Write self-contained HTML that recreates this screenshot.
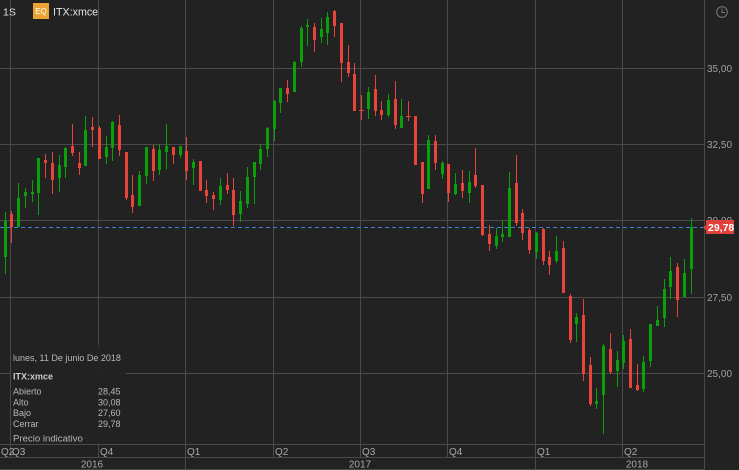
<!DOCTYPE html>
<html><head><meta charset="utf-8"><style>
html,body{margin:0;padding:0;background:#222222;}
svg{display:block;}
text{font-family:"Liberation Sans",Arial,sans-serif;}
.g rect{fill:#0aa00a;}
.r rect{fill:#e9443a;}
</style></head><body>
<svg width="739" height="470" viewBox="0 0 739 470" xmlns="http://www.w3.org/2000/svg">
<rect x="0" y="0" width="739" height="470" fill="#222222"/>
<g stroke="#4a4a4a" stroke-width="1" fill="none">
<line x1="0" y1="68.5" x2="704" y2="68.5"/>
<line x1="0" y1="144.5" x2="704" y2="144.5"/>
<line x1="0" y1="220.5" x2="704" y2="220.5"/>
<line x1="0" y1="297.5" x2="704" y2="297.5"/>
<line x1="0" y1="373.5" x2="704" y2="373.5"/>
<line x1="10.5" y1="0" x2="10.5" y2="457"/>
<line x1="98.5" y1="0" x2="98.5" y2="457"/>
<line x1="185.5" y1="0" x2="185.5" y2="470"/>
<line x1="273.5" y1="0" x2="273.5" y2="457"/>
<line x1="360.5" y1="0" x2="360.5" y2="457"/>
<line x1="447.5" y1="0" x2="447.5" y2="457"/>
<line x1="535.5" y1="0" x2="535.5" y2="470"/>
<line x1="622.5" y1="0" x2="622.5" y2="457"/>
<line x1="704.5" y1="0" x2="704.5" y2="470"/>
<line x1="0" y1="444.5" x2="704" y2="444.5"/>
<line x1="0" y1="457.5" x2="704" y2="457.5"/>
<line x1="0" y1="469.5" x2="704" y2="469.5"/>
</g>
<line x1="0" y1="227.5" x2="704" y2="227.5" stroke="#3b80d4" stroke-width="1" stroke-dasharray="4 3"/>
<g class="g">
<rect x="5" y="212" width="1" height="62"/><rect x="4" y="221" width="3" height="36"/>
<rect x="18" y="183" width="1" height="44"/><rect x="17" y="198" width="3" height="29"/>
<rect x="25" y="188" width="1" height="20"/><rect x="24" y="192" width="3" height="4"/>
<rect x="32" y="180" width="1" height="22"/><rect x="31" y="192" width="3" height="2"/>
<rect x="38" y="158" width="1" height="57"/><rect x="37" y="158" width="3" height="35"/>
<rect x="59" y="155" width="1" height="37"/><rect x="58" y="165" width="3" height="13"/>
<rect x="65" y="147" width="1" height="31"/><rect x="64" y="148" width="3" height="19"/>
<rect x="85" y="116" width="1" height="50"/><rect x="84" y="130" width="3" height="36"/>
<rect x="106" y="136" width="1" height="28"/><rect x="105" y="147" width="3" height="10"/>
<rect x="112" y="121" width="1" height="40"/><rect x="111" y="122" width="3" height="26"/>
<rect x="139" y="171" width="1" height="35"/><rect x="138" y="175" width="3" height="31"/>
<rect x="146" y="147" width="1" height="37"/><rect x="145" y="147" width="3" height="29"/>
<rect x="159" y="144" width="1" height="31"/><rect x="158" y="150" width="3" height="20"/>
<rect x="166" y="124" width="1" height="45"/><rect x="165" y="146" width="3" height="6"/>
<rect x="180" y="146" width="1" height="12"/><rect x="179" y="146" width="3" height="9"/>
<rect x="193" y="159" width="1" height="26"/><rect x="192" y="162" width="3" height="6"/>
<rect x="220" y="178" width="1" height="27"/><rect x="219" y="186" width="3" height="14"/>
<rect x="240" y="191" width="1" height="31"/><rect x="239" y="201" width="3" height="13"/>
<rect x="247" y="167" width="1" height="41"/><rect x="246" y="177" width="3" height="27"/>
<rect x="254" y="162" width="1" height="42"/><rect x="253" y="162" width="3" height="15"/>
<rect x="260" y="144" width="1" height="26"/><rect x="259" y="149" width="3" height="15"/>
<rect x="267" y="127" width="1" height="30"/><rect x="266" y="128" width="3" height="21"/>
<rect x="274" y="100" width="1" height="41"/><rect x="273" y="101" width="3" height="28"/>
<rect x="280" y="88" width="1" height="25"/><rect x="279" y="88" width="3" height="15"/>
<rect x="294" y="61" width="1" height="31"/><rect x="293" y="62" width="3" height="30"/>
<rect x="301" y="26" width="1" height="41"/><rect x="300" y="28" width="3" height="34"/>
<rect x="307" y="19" width="1" height="27"/><rect x="306" y="25" width="3" height="2"/>
<rect x="321" y="18" width="1" height="25"/><rect x="320" y="29" width="3" height="8"/>
<rect x="327" y="12" width="1" height="33"/><rect x="326" y="17" width="3" height="16"/>
<rect x="368" y="87" width="1" height="32"/><rect x="367" y="92" width="3" height="17"/>
<rect x="388" y="94" width="1" height="23"/><rect x="387" y="100" width="3" height="15"/>
<rect x="401" y="99" width="1" height="29"/><rect x="400" y="116" width="3" height="12"/>
<rect x="428" y="135" width="1" height="54"/><rect x="427" y="140" width="3" height="49"/>
<rect x="442" y="161" width="1" height="18"/><rect x="441" y="163" width="3" height="11"/>
<rect x="455" y="173" width="1" height="22"/><rect x="454" y="184" width="3" height="10"/>
<rect x="469" y="171" width="1" height="32"/><rect x="468" y="182" width="3" height="11"/>
<rect x="496" y="228" width="1" height="21"/><rect x="495" y="236" width="3" height="10"/>
<rect x="502" y="220" width="1" height="22"/><rect x="501" y="234" width="3" height="3"/>
<rect x="509" y="172" width="1" height="65"/><rect x="508" y="188" width="3" height="49"/>
<rect x="536" y="232" width="1" height="27"/><rect x="535" y="233" width="3" height="19"/>
<rect x="556" y="236" width="1" height="27"/><rect x="555" y="251" width="3" height="10"/>
<rect x="576" y="313" width="1" height="29"/><rect x="575" y="317" width="3" height="7"/>
<rect x="596" y="388" width="1" height="21"/><rect x="595" y="401" width="3" height="3"/>
<rect x="603" y="344" width="1" height="90"/><rect x="602" y="346" width="3" height="49"/>
<rect x="617" y="351" width="1" height="36"/><rect x="616" y="360" width="3" height="11"/>
<rect x="623" y="335" width="1" height="34"/><rect x="622" y="341" width="3" height="22"/>
<rect x="643" y="356" width="1" height="36"/><rect x="642" y="362" width="3" height="27"/>
<rect x="650" y="324" width="1" height="43"/><rect x="649" y="324" width="3" height="37"/>
<rect x="657" y="306" width="1" height="20"/><rect x="656" y="320" width="3" height="6"/>
<rect x="664" y="279" width="1" height="48"/><rect x="663" y="289" width="3" height="29"/>
<rect x="670" y="257" width="1" height="42"/><rect x="669" y="271" width="3" height="16"/>
<rect x="684" y="259" width="1" height="38"/><rect x="683" y="273" width="3" height="24"/>
<rect x="691" y="218" width="1" height="76"/><rect x="690" y="227" width="3" height="42"/>
</g>
<g class="r">
<rect x="11" y="211" width="1" height="32"/><rect x="10" y="214" width="3" height="13"/>
<rect x="45" y="154" width="1" height="24"/><rect x="44" y="160" width="3" height="3"/>
<rect x="52" y="152" width="1" height="42"/><rect x="51" y="163" width="3" height="17"/>
<rect x="72" y="124" width="1" height="32"/><rect x="71" y="146" width="3" height="7"/>
<rect x="79" y="152" width="1" height="23"/><rect x="78" y="163" width="3" height="5"/>
<rect x="92" y="117" width="1" height="30"/><rect x="91" y="127" width="3" height="3"/>
<rect x="99" y="126" width="1" height="33"/><rect x="98" y="128" width="3" height="31"/>
<rect x="119" y="115" width="1" height="41"/><rect x="118" y="125" width="3" height="25"/>
<rect x="126" y="152" width="1" height="48"/><rect x="125" y="152" width="3" height="46"/>
<rect x="132" y="175" width="1" height="38"/><rect x="131" y="195" width="3" height="12"/>
<rect x="153" y="145" width="1" height="36"/><rect x="152" y="149" width="3" height="22"/>
<rect x="173" y="147" width="1" height="17"/><rect x="172" y="147" width="3" height="8"/>
<rect x="186" y="137" width="1" height="43"/><rect x="185" y="151" width="3" height="20"/>
<rect x="200" y="161" width="1" height="30"/><rect x="199" y="161" width="3" height="30"/>
<rect x="206" y="180" width="1" height="23"/><rect x="205" y="190" width="3" height="6"/>
<rect x="213" y="192" width="1" height="18"/><rect x="212" y="195" width="3" height="4"/>
<rect x="227" y="173" width="1" height="21"/><rect x="226" y="185" width="3" height="5"/>
<rect x="233" y="178" width="1" height="48"/><rect x="232" y="190" width="3" height="25"/>
<rect x="287" y="80" width="1" height="22"/><rect x="286" y="88" width="3" height="6"/>
<rect x="314" y="23" width="1" height="29"/><rect x="313" y="27" width="3" height="13"/>
<rect x="334" y="10" width="1" height="27"/><rect x="333" y="11" width="3" height="15"/>
<rect x="341" y="23" width="1" height="59"/><rect x="340" y="23" width="3" height="40"/>
<rect x="348" y="45" width="1" height="32"/><rect x="347" y="62" width="3" height="11"/>
<rect x="354" y="63" width="1" height="48"/><rect x="353" y="74" width="3" height="37"/>
<rect x="361" y="95" width="1" height="25"/><rect x="359" y="110" width="5" height="1"/>
<rect x="375" y="75" width="1" height="41"/><rect x="374" y="89" width="3" height="22"/>
<rect x="381" y="101" width="1" height="19"/><rect x="380" y="110" width="3" height="5"/>
<rect x="395" y="81" width="1" height="48"/><rect x="394" y="99" width="3" height="26"/>
<rect x="408" y="101" width="1" height="20"/><rect x="406" y="116" width="5" height="1"/>
<rect x="415" y="116" width="1" height="49"/><rect x="414" y="116" width="3" height="49"/>
<rect x="422" y="162" width="1" height="41"/><rect x="421" y="162" width="3" height="32"/>
<rect x="435" y="135" width="1" height="35"/><rect x="434" y="141" width="3" height="22"/>
<rect x="448" y="164" width="1" height="38"/><rect x="447" y="164" width="3" height="29"/>
<rect x="462" y="170" width="1" height="28"/><rect x="461" y="183" width="3" height="8"/>
<rect x="475" y="148" width="1" height="40"/><rect x="474" y="175" width="3" height="11"/>
<rect x="482" y="185" width="1" height="51"/><rect x="481" y="185" width="3" height="50"/>
<rect x="489" y="225" width="1" height="26"/><rect x="488" y="234" width="3" height="10"/>
<rect x="516" y="155" width="1" height="71"/><rect x="515" y="183" width="3" height="40"/>
<rect x="522" y="209" width="1" height="31"/><rect x="521" y="213" width="3" height="20"/>
<rect x="529" y="228" width="1" height="26"/><rect x="528" y="230" width="3" height="20"/>
<rect x="543" y="228" width="1" height="37"/><rect x="542" y="229" width="3" height="32"/>
<rect x="549" y="251" width="1" height="24"/><rect x="548" y="257" width="3" height="8"/>
<rect x="563" y="241" width="1" height="52"/><rect x="562" y="248" width="3" height="45"/>
<rect x="570" y="294" width="1" height="49"/><rect x="569" y="296" width="3" height="44"/>
<rect x="583" y="299" width="1" height="82"/><rect x="582" y="315" width="3" height="59"/>
<rect x="590" y="357" width="1" height="49"/><rect x="589" y="365" width="3" height="39"/>
<rect x="610" y="333" width="1" height="41"/><rect x="609" y="349" width="3" height="23"/>
<rect x="630" y="329" width="1" height="59"/><rect x="629" y="339" width="3" height="49"/>
<rect x="637" y="364" width="1" height="27"/><rect x="636" y="385" width="3" height="5"/>
<rect x="677" y="263" width="1" height="54"/><rect x="676" y="267" width="3" height="33"/>
</g>
<text x="3" y="15.5" font-size="10.5" fill="#e2e2e2">1S</text>
<rect x="33" y="3" width="16" height="16" fill="#e9a434"/>
<text x="41" y="14" font-size="8" fill="#ffffff" text-anchor="middle">EQ</text>
<text x="53" y="15.5" font-size="10.7" fill="#e6e6e6">ITX:xmce</text>
<circle cx="722" cy="12" r="5.3" fill="none" stroke="#7a7a7a" stroke-width="1"/>
<polyline points="722,8.5 722,12.5 725,12.5" fill="none" stroke="#7a7a7a" stroke-width="1"/>
<g font-size="10" fill="#a0a0a0">
<text x="707" y="72">35,00</text>
<text x="707" y="148">32,50</text>
<text x="707" y="224">30,00</text>
<text x="707" y="301">27,50</text>
<text x="707" y="377">25,00</text>
</g>
<polygon points="703.5,227.5 707,224 707,231" fill="#e0413a"/>
<rect x="706" y="220" width="28" height="14" fill="#e0413a"/>
<text x="708" y="231" font-size="10.5" font-weight="bold" fill="#ffffff">29,78</text>
<g font-size="10" fill="#a8a8a8">
<text x="1" y="455">Q2</text>
<text x="12" y="455">Q3</text>
<text x="100" y="455">Q4</text>
<text x="187" y="455">Q1</text>
<text x="275" y="455">Q2</text>
<text x="362" y="455">Q3</text>
<text x="449" y="455">Q4</text>
<text x="537" y="455">Q1</text>
<text x="624" y="455">Q2</text>
<text x="92" y="467.5" text-anchor="middle">2016</text>
<text x="360" y="467.5" text-anchor="middle">2017</text>
<text x="637" y="467.5" text-anchor="middle">2018</text>
</g>
<rect x="11" y="345" width="115" height="99" fill="#222222" fill-opacity="0.9"/>
<g font-size="9" fill="#b8b8b8">
<text x="13" y="361">lunes, 11 De junio De 2018</text>
<text x="13" y="379.5" font-weight="bold" fill="#cccccc">ITX:xmce</text>
<text x="13" y="394.5">Abierto</text><text x="98" y="394.5">28,45</text>
<text x="13" y="405.3">Alto</text><text x="98" y="405.3">30,08</text>
<text x="13" y="416">Bajo</text><text x="98" y="416">27,60</text>
<text x="13" y="426.8">Cerrar</text><text x="98" y="426.8">29,78</text>
<text x="13" y="441.5" font-size="9.6">Precio indicativo</text>
</g>
</svg>
</body></html>
